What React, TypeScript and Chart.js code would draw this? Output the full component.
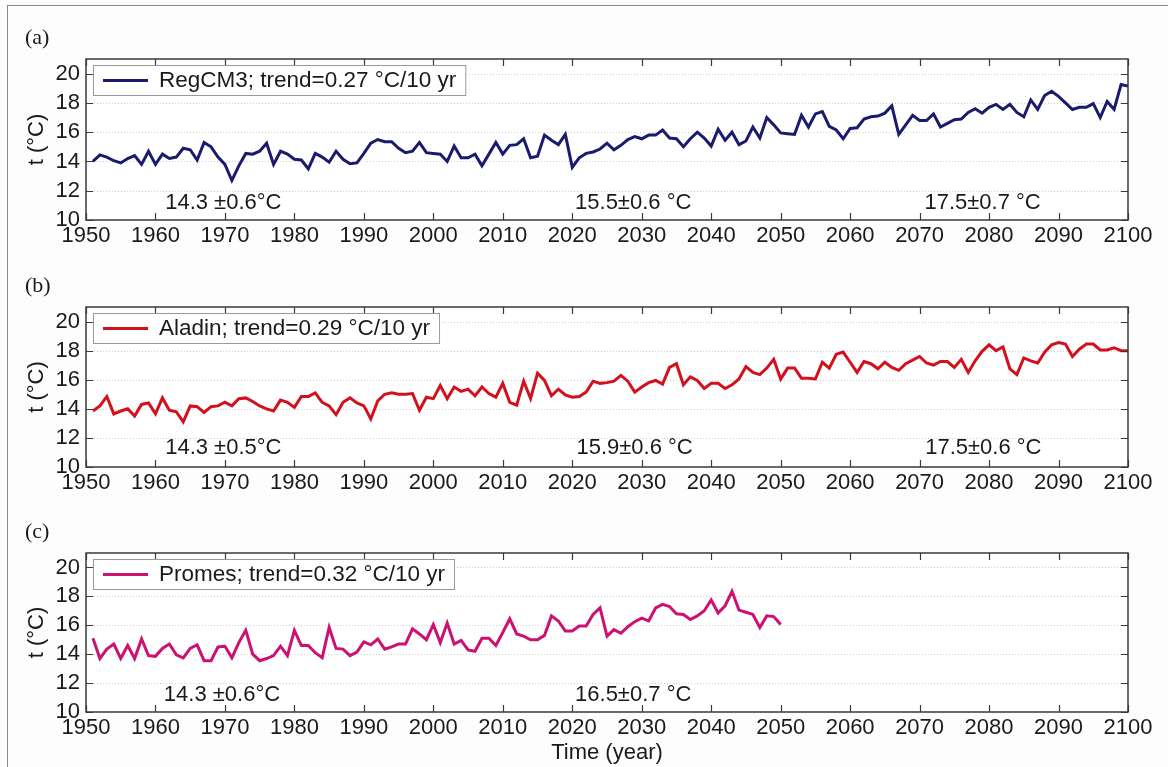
import React, { useEffect, useRef } from "react";
import { Chart, registerables } from "chart.js";
Chart.register(...registerables);

// ---------- DATA ----------
const firstYear = 1951;
const xTickStart = 1950;
const xTickEnd = 2100;
const yTicks = [10, 12, 14, 16, 18, 20];

const regcm3 = [
  14.0, 14.45, 14.3, 14.05, 13.9, 14.2, 14.4, 13.8, 14.7, 13.8,
  14.5, 14.2, 14.3, 14.9, 14.8, 14.1, 15.3, 15.0, 14.3, 13.8,
  12.7, 13.7, 14.55, 14.5, 14.7, 15.25, 13.8, 14.7, 14.5, 14.15,
  14.1, 13.5, 14.55, 14.3, 13.95, 14.7, 14.15, 13.85, 13.9, 14.55,
  15.25, 15.5, 15.35, 15.35, 14.9, 14.6, 14.7, 15.3, 14.6, 14.55,
  14.5, 14.0, 15.05, 14.25, 14.25, 14.5, 13.7, 14.5, 15.3, 14.5,
  15.1, 15.15, 15.55, 14.25, 14.35, 15.8, 15.45, 15.15, 15.85, 13.6,
  14.25, 14.55, 14.65, 14.85, 15.25, 14.8, 15.1, 15.5, 15.7, 15.55,
  15.8, 15.8, 16.15, 15.6, 15.55, 15.0, 15.55, 16.0, 15.6, 15.05,
  16.2, 15.45, 16.0, 15.15, 15.4, 16.35, 15.6, 17.0, 16.5, 15.95,
  15.9, 15.85, 17.15, 16.35, 17.25, 17.4, 16.4, 16.15, 15.55, 16.25,
  16.3, 16.9, 17.05, 17.1, 17.3, 17.8, 15.85, 16.5, 17.15, 16.8,
  16.8, 17.25, 16.35, 16.6, 16.85, 16.9, 17.35, 17.6, 17.3, 17.7,
  17.9, 17.55, 17.9, 17.35, 17.05, 18.2, 17.55, 18.5, 18.8, 18.45,
  18.0, 17.55, 17.7, 17.7, 17.95, 17.0, 18.1, 17.55, 19.25, 19.15,
];

const aladin = [
  13.85, 14.2, 14.85, 13.65, 13.85, 14.0, 13.5, 14.3, 14.4, 13.65,
  14.75, 13.9, 13.8, 13.1, 14.2, 14.15, 13.75, 14.15, 14.2, 14.45,
  14.2, 14.7, 14.75, 14.5, 14.2, 14.0, 13.85, 14.6, 14.45, 14.1,
  14.85, 14.85, 15.1, 14.45, 14.2, 13.6, 14.45, 14.75, 14.4, 14.2,
  13.3, 14.55, 15.0, 15.1, 15.0, 15.0, 15.05, 13.9, 14.8, 14.7,
  15.6, 14.7, 15.5, 15.2, 15.35, 14.9, 15.5, 15.05, 14.8, 15.75,
  14.45, 14.25, 15.9, 14.7, 16.45, 15.95, 14.9, 15.35, 14.95, 14.8,
  14.85, 15.15, 15.9, 15.75, 15.8, 15.9, 16.3, 15.9, 15.15, 15.5,
  15.8, 15.95, 15.7, 16.85, 17.1, 15.65, 16.2, 15.95, 15.4, 15.75,
  15.75, 15.4, 15.65, 16.05, 16.9, 16.5, 16.35, 16.8, 17.4, 16.05,
  16.8, 16.8, 16.1, 16.1, 16.05, 17.2, 16.8, 17.75, 17.9, 17.2,
  16.5, 17.25, 17.1, 16.75, 17.2, 16.85, 16.65, 17.1, 17.35, 17.6,
  17.15, 17.0, 17.25, 17.25, 16.85, 17.4, 16.5, 17.3, 17.95, 18.4,
  18.0, 18.25, 16.75, 16.35, 17.5, 17.3, 17.15, 17.9, 18.4, 18.55,
  18.45, 17.6, 18.1, 18.45, 18.45, 18.05, 18.05, 18.2, 18.0, 18.0,
];

const promes = [
  15.1, 13.7, 14.35, 14.7, 13.7, 14.6, 13.7, 15.05, 13.9, 13.85,
  14.4, 14.7, 13.95, 13.75, 14.4, 14.65, 13.55, 13.55, 14.5, 14.55,
  13.75, 14.8, 15.65, 14.0, 13.55, 13.7, 13.9, 14.55, 13.9, 15.65,
  14.6, 14.6, 14.1, 13.75, 15.85, 14.4, 14.35, 13.9, 14.15, 14.85,
  14.65, 15.05, 14.35, 14.5, 14.7, 14.7, 15.75, 15.4, 15.0, 16.05,
  14.8, 16.15, 14.7, 14.95, 14.3, 14.2, 15.1, 15.1, 14.6, 15.5,
  16.45, 15.4, 15.25, 15.0, 15.0, 15.3, 16.65, 16.3, 15.6, 15.6,
  15.95, 15.95, 16.75, 17.2, 15.25, 15.7, 15.45, 15.9, 16.25, 16.5,
  16.3, 17.2, 17.45, 17.3, 16.8, 16.75, 16.4, 16.65, 17.0, 17.75,
  16.85, 17.35, 18.35, 17.05, 16.9, 16.75, 15.85, 16.65, 16.6, 16.05,
];

const panelLabels = ["(a)", "(b)", "(c)"];
const legendLabels = [
  "RegCM3; trend=0.27 °C/10 yr",
  "Aladin; trend=0.29 °C/10 yr",
  "Promes; trend=0.32 °C/10 yr",
];
const noteTextsA = ["14.3 ±0.6°C", "15.5±0.6 °C", "17.5±0.7 °C"];
const noteTextsB = ["14.3 ±0.5°C", "15.9±0.6 °C", "17.5±0.6 °C"];
const noteTextsC = ["14.3 ±0.6°C", "16.5±0.7 °C"];
const yTitle = "t (°C)";
const xTitle = "Time (year)";

// ---------- STYLE / LAYOUT ----------
const SANS = '"Liberation Sans", Arial, Helvetica, sans-serif';
const SERIF = '"Liberation Serif", "Times New Roman", serif';
const TEXT = "#1a1a1a";

type Note = { text: string; x: number; y: number };
type PanelCfg = {
  top: number;
  height: number;
  padTop: number;
  xAxisH: number;
  values: number[];
  color: string;
  label: string;
  legend: string;
  notes: Note[];
  xTitle?: string;
};

function toPoints(values: number[]) {
  return values.map((v, i) => ({ x: firstYear + i, y: v }));
}

function decorPlugin(cfg: PanelCfg) {
  return {
    id: "decor",
    beforeDraw(chart: any) {
      const { ctx, chartArea: a } = chart;
      ctx.save();
      ctx.fillStyle = "#ffffff";
      ctx.fillRect(a.left, a.top, a.right - a.left, a.bottom - a.top);
      ctx.restore();
    },
    beforeDatasetsDraw(chart: any) {
      const { ctx, chartArea: a } = chart;
      const ys = chart.scales.y;
      ctx.save();
      ctx.strokeStyle = "#cfcfcf";
      ctx.lineWidth = 1;
      ctx.setLineDash([1, 2]);
      for (const v of yTicks) {
        if (v === 10) continue;
        const py = Math.round(ys.getPixelForValue(v)) + 0.5;
        ctx.beginPath();
        ctx.moveTo(a.left + 2, py);
        ctx.lineTo(a.right - 2, py);
        ctx.stroke();
      }
      ctx.restore();
    },
    afterDatasetsDraw(chart: any) {
      const { ctx, chartArea: a } = chart;
      const xs = chart.scales.x;
      const ys = chart.scales.y;
      ctx.save();
      ctx.strokeStyle = "#3a3a3a";
      ctx.lineWidth = 1.5;
      ctx.setLineDash([]);
      ctx.strokeRect(a.left, a.top, a.right - a.left, a.bottom - a.top);
      const tl = 7;
      ctx.lineWidth = 1.2;
      for (const t of xs.ticks) {
        const px = Math.round(xs.getPixelForValue(t.value)) + 0.5;
        ctx.beginPath();
        ctx.moveTo(px, a.bottom);
        ctx.lineTo(px, a.bottom - tl);
        ctx.moveTo(px, a.top);
        ctx.lineTo(px, a.top + tl);
        ctx.stroke();
      }
      for (const v of yTicks) {
        const py = Math.round(ys.getPixelForValue(v)) + 0.5;
        ctx.beginPath();
        ctx.moveTo(a.left, py);
        ctx.lineTo(a.left + tl, py);
        ctx.moveTo(a.right, py);
        ctx.lineTo(a.right - tl, py);
        ctx.stroke();
      }
      ctx.restore();
    },
    afterDraw(chart: any) {
      const { ctx, chartArea: a } = chart;
      const xs = chart.scales.x;
      const ys = chart.scales.y;
      ctx.save();
      // legend box
      ctx.font = `22.5px ${SANS}`;
      const tw = ctx.measureText(cfg.legend).width;
      const bx = a.left + 7;
      const by = a.top + 6;
      const bh = 30;
      const bw = 66 + tw + 9;
      ctx.fillStyle = "#ffffff";
      ctx.fillRect(bx, by, bw, bh);
      ctx.strokeStyle = "#9a9a9a";
      ctx.lineWidth = 1;
      ctx.strokeRect(bx + 0.5, by + 0.5, bw, bh);
      ctx.strokeStyle = cfg.color;
      ctx.lineWidth = 3;
      ctx.beginPath();
      ctx.moveTo(bx + 10, by + bh / 2 + 0.5);
      ctx.lineTo(bx + 55, by + bh / 2 + 0.5);
      ctx.stroke();
      ctx.fillStyle = TEXT;
      ctx.textBaseline = "middle";
      ctx.textAlign = "left";
      ctx.fillText(cfg.legend, bx + 66, by + bh / 2 + 1);
      // notes
      ctx.font = `22px ${SANS}`;
      for (const n of cfg.notes) {
        ctx.fillText(n.text, xs.getPixelForValue(n.x), ys.getPixelForValue(n.y));
      }
      // panel label
      ctx.font = `22px ${SERIF}`;
      ctx.fillText(cfg.label, 25, a.top - 21);
      // y title
      ctx.font = `22px ${SANS}`;
      ctx.translate(37, (a.top + a.bottom) / 2);
      ctx.rotate(-Math.PI / 2);
      ctx.textAlign = "center";
      ctx.fillText(yTitle, 0, 0);
      ctx.setTransform(1, 0, 0, 1, 0, 0);
      if (cfg.xTitle) {
        ctx.font = `22px ${SANS}`;
        ctx.textAlign = "center";
        ctx.fillText(cfg.xTitle, (a.left + a.right) / 2, a.bottom + 41);
      }
      ctx.restore();
    },
  };
}

function Panel({ cfg }: { cfg: PanelCfg }) {
  const ref = useRef<HTMLCanvasElement | null>(null);
  useEffect(() => {
    if (!ref.current) return;
    const chart = new Chart(ref.current, {
      type: "line",
      data: {
        datasets: [
          {
            data: toPoints(cfg.values),
            borderColor: cfg.color,
            borderWidth: 3,
            pointRadius: 0,
            tension: 0,
            fill: false,
          },
        ],
      },
      options: {
        responsive: false,
        animation: false,
        devicePixelRatio: 1,
        layout: { padding: { top: cfg.padTop, left: 0, right: 40, bottom: 0 } },
        plugins: { legend: { display: false }, tooltip: { enabled: false } },
        scales: {
          x: {
            type: "linear",
            min: xTickStart,
            max: xTickEnd,
            grid: { display: false, drawTicks: false },
            border: { display: false },
            ticks: {
              stepSize: 10,
              autoSkip: false,
              maxRotation: 0,
              padding: 3,
              color: TEXT,
              font: { family: SANS, size: 22 },
              callback: (v: any) => String(v),
            },
            afterFit: (s: any) => {
              s.height = cfg.xAxisH;
            },
          },
          y: {
            min: 10,
            max: 21,
            grid: { display: false, drawTicks: false },
            border: { display: false },
            ticks: {
              stepSize: 2,
              padding: 6,
              color: TEXT,
              font: { family: SANS, size: 22 },
              callback: (v: any) => String(v),
            },
            afterBuildTicks: (s: any) => {
              s.ticks = yTicks.map((v) => ({ value: v }));
            },
            afterFit: (s: any) => {
              s.width = 86;
            },
          },
        },
      } as any,
      plugins: [decorPlugin(cfg) as any],
    });
    return () => chart.destroy();
  }, [cfg]);
  return (
    <canvas
      ref={ref}
      width={1168}
      height={cfg.height}
      style={{ position: "absolute", left: 0, top: cfg.top, width: 1168, height: cfg.height }}
    />
  );
}

const panels: PanelCfg[] = [
  {
    top: 0,
    height: 250,
    padTop: 59,
    xAxisH: 30,
    values: regcm3,
    color: "#1b1b6e",
    label: panelLabels[0],
    legend: legendLabels[0],
    notes: [
      { text: noteTextsA[0], x: 1961.4, y: 11.15 },
      { text: noteTextsA[1], x: 2020.4, y: 11.15 },
      { text: noteTextsA[2], x: 2070.7, y: 11.15 },
    ],
  },
  {
    top: 250,
    height: 245,
    padTop: 57,
    xAxisH: 28,
    values: aladin,
    color: "#d2111c",
    label: panelLabels[1],
    legend: legendLabels[1],
    notes: [
      { text: noteTextsB[0], x: 1961.4, y: 11.3 },
      { text: noteTextsB[1], x: 2020.6, y: 11.3 },
      { text: noteTextsB[2], x: 2070.8, y: 11.3 },
    ],
  },
  {
    top: 495,
    height: 272,
    padTop: 58,
    xAxisH: 55,
    values: promes,
    color: "#cc1170",
    label: panelLabels[2],
    legend: legendLabels[2],
    notes: [
      { text: noteTextsC[0], x: 1961.2, y: 11.16 },
      { text: noteTextsC[1], x: 2020.4, y: 11.16 },
    ],
    xTitle: xTitle,
  },
];

export default function App() {
  return (
    <div
      style={{
        position: "fixed",
        left: 0,
        top: 0,
        width: 1168,
        height: 767,
        background: "#fdfdfd",
        overflow: "hidden",
      }}
    >
      <div
        style={{
          position: "absolute",
          left: 7,
          top: 5,
          right: 0,
          bottom: 0,
          borderTop: "1.5px solid #8a8a8a",
          borderLeft: "1.5px solid #8a8a8a",
        }}
      />
      {panels.map((p, i) => (
        <Panel key={i} cfg={p} />
      ))}
    </div>
  );
}
